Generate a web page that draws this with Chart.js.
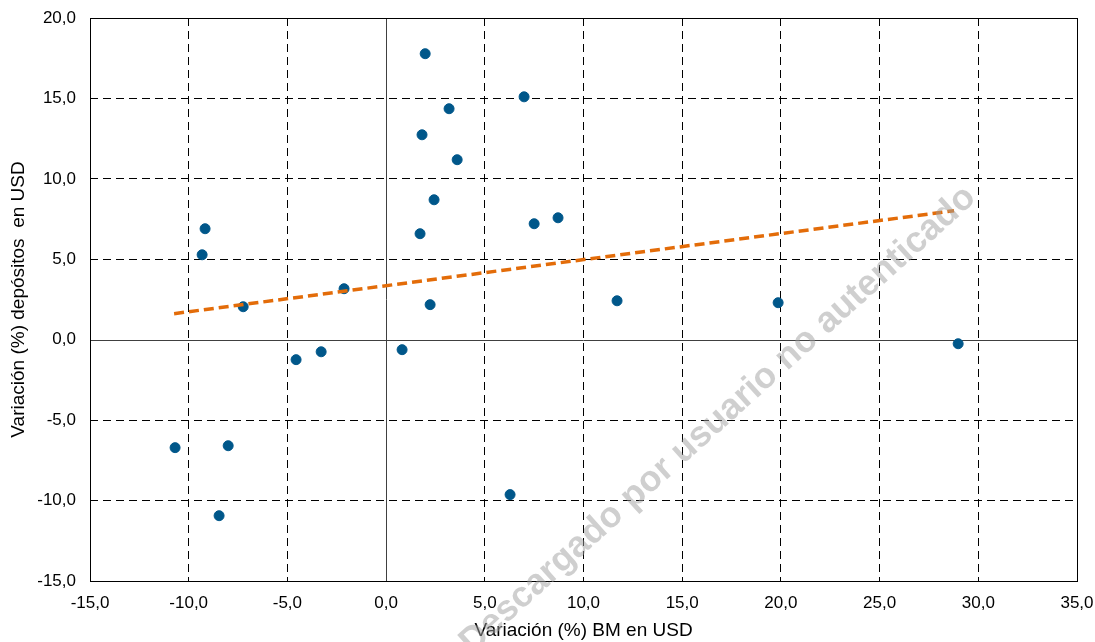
<!DOCTYPE html>
<html lang="es">
<head>
    <meta charset="UTF-8">
    <title>Variación BM vs depósitos en USD</title>
    <style>
        body {
            margin: 0;
            padding: 0;
            background: #ffffff;
        }

        .wrap {
            width: 1095px;
            height: 642px;
            position: relative;
        }
    </style>
    <script src="https://cdn.jsdelivr.net/npm/chart.js"></script>
</head>
<body>
    <div class="wrap">
        <canvas id="scatterChart" width="1095" height="642"></canvas>
    </div>

    <script>
        // Variación (%) BM en USD (eje x)
        const bmValues = [1.98, 6.99, 3.19, 1.82, 3.60, 2.43, 8.71, 7.50, 1.72, -9.17, -9.32, -2.13,
            -7.24, 2.23, 11.70, 19.86, 28.98, 0.81, -3.29, -4.56, -10.69, -8.00, 6.28, -8.46];
        // Variación (%) depósitos en USD (eje y)
        const depValues = [17.78, 15.10, 14.36, 12.74, 11.19, 8.70, 7.58, 7.21, 6.59, 6.90, 5.28, 3.17,
            2.05, 2.18, 2.42, 2.30, -0.25, -0.62, -0.75, -1.24, -6.71, -6.59, -9.63, -10.94];

        // tendencia lineal (extremos)
        const trendX = [-10.74, 28.77];
        const trendY = [1.62, 8.02];

        const xTicks = [-15, -10, -5, 0, 5, 10, 15, 20, 25, 30, 35];
        const yTicks = [-15, -10, -5, 0, 5, 10, 15, 20];

        const watermark = 'Descargado por usuario no autenticado';

        const fmt = v => v.toFixed(1).replace('.', ',');

        const points = bmValues.map((x, i) => ({ x: x, y: depValues[i] }));
        const trend = trendX.map((x, i) => ({ x: x, y: trendY[i] }));

        // sin relleno extra por las etiquetas, el área queda fija
        const noPad = s => {
            s.paddingLeft = 0;
            s.paddingRight = 0;
            s.paddingTop = 0;
            s.paddingBottom = 0;
        };

        // marco, ejes en cero y marca de agua
        const framePlugin = {
            id: 'frame',
            beforeDatasetsDraw(chart) {
                const { ctx, chartArea: a, scales } = chart;
                const x0 = scales.x.getPixelForValue(0);
                const y0 = scales.y.getPixelForValue(0);
                ctx.save();
                ctx.setLineDash([]);
                ctx.strokeStyle = '#404040';
                ctx.lineWidth = 1;
                ctx.beginPath();
                ctx.moveTo(Math.round(x0) + 0.5, a.top);
                ctx.lineTo(Math.round(x0) + 0.5, a.bottom);
                ctx.moveTo(a.left, Math.round(y0) + 0.5);
                ctx.lineTo(a.right, Math.round(y0) + 0.5);
                ctx.stroke();
                ctx.strokeStyle = '#000000';
                ctx.strokeRect(a.left + 0.5, a.top + 0.5, a.right - a.left, a.bottom - a.top);
                ctx.restore();
            },
            afterDraw(chart) {
                const { ctx } = chart;
                ctx.save();
                ctx.translate(718, 420);
                ctx.rotate(-42 * Math.PI / 180);
                ctx.font = 'bold 36px "Liberation Sans", Arial, sans-serif';
                ctx.fillStyle = 'rgba(160, 160, 160, 0.5)';
                ctx.textAlign = 'center';
                ctx.textBaseline = 'middle';
                ctx.fillText(watermark, 0, 0);
                ctx.restore();
            }
        };

        const tickFont = { family: '"Liberation Sans", Arial, sans-serif', size: 17 };
        const titleFont = { family: '"Liberation Sans", Arial, sans-serif', size: 19 };

        const ctx = document.getElementById('scatterChart').getContext('2d');
        new Chart(ctx, {
            type: 'scatter',
            data: {
                datasets: [{
                    label: 'Países',
                    data: points,
                    backgroundColor: '#00578a',
                    borderColor: '#00578a',
                    pointRadius: 5,
                    pointHoverRadius: 5,
                    order: 1
                }, {
                    type: 'line',
                    label: 'Tendencia',
                    data: trend,
                    borderColor: '#e36c09',
                    borderWidth: 3.5,
                    borderDash: [10, 5],
                    pointRadius: 0,
                    fill: false,
                    order: 0
                }]
            },
            options: {
                responsive: false,
                animation: false,
                layout: {
                    padding: { top: 18, right: 18, left: 0, bottom: 0 }
                },
                plugins: {
                    legend: { display: false },
                    tooltip: { enabled: false }
                },
                scales: {
                    x: {
                        type: 'linear',
                        min: -15,
                        max: 35,
                        afterFit: s => { s.height = 61; noPad(s); },
                        afterBuildTicks: s => { s.ticks = xTicks.map(v => ({ value: v })); },
                        ticks: {
                            color: '#000000',
                            font: tickFont,
                            padding: 12,
                            maxRotation: 0,
                            callback: v => fmt(v)
                        },
                        grid: {
                            drawTicks: false,
                            color: c => (c.tick && c.tick.value === 0) ? 'rgba(0,0,0,0)' : '#000000',
                            lineWidth: 1
                        },
                        border: { display: false, dash: [8, 5] },
                        title: {
                            display: true,
                            text: 'Variación (%) BM en USD',
                            color: '#000000',
                            font: titleFont,
                            padding: { top: 0, bottom: 0 }
                        }
                    },
                    y: {
                        type: 'linear',
                        min: -15,
                        max: 20,
                        afterFit: s => { s.width = 90; noPad(s); },
                        afterBuildTicks: s => { s.ticks = yTicks.map(v => ({ value: v })); },
                        ticks: {
                            color: '#000000',
                            font: tickFont,
                            padding: 14,
                            callback: v => fmt(v)
                        },
                        grid: {
                            drawTicks: false,
                            color: c => (c.tick && c.tick.value === 0) ? 'rgba(0,0,0,0)' : '#000000',
                            lineWidth: 1
                        },
                        border: { display: false, dash: [8, 5] },
                        title: {
                            display: true,
                            text: 'Variación (%) depósitos  en USD',
                            color: '#000000',
                            font: titleFont,
                            padding: { top: 7, bottom: 0 }
                        }
                    }
                }
            },
            plugins: [framePlugin]
        });
    </script>
</body>
</html>
